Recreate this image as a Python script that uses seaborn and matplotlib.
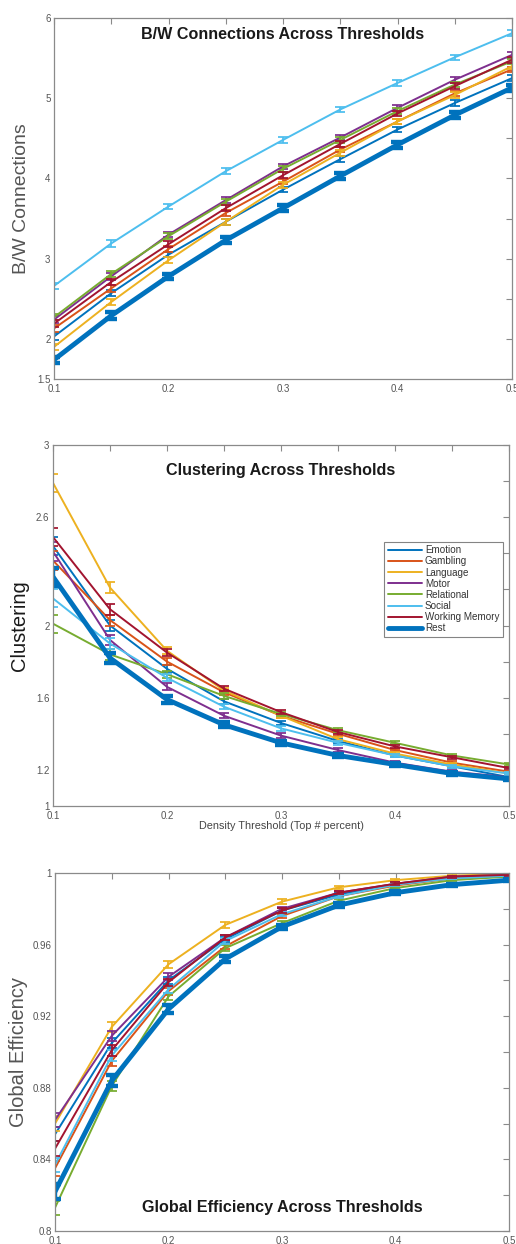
import numpy as np
import pandas as pd
import matplotlib
matplotlib.use("Agg")
import matplotlib.pyplot as plt
import seaborn as sns

sns.set_style("white")
plt.rcParams['font.family'] = ['Liberation Sans', 'DejaVu Sans']

thresholds = [0.1, 0.15, 0.2, 0.25, 0.3, 0.35, 0.4, 0.45, 0.5]
conditions = ["Emotion", "Gambling", "Language", "Motor", "Relational", "Social", "Working Memory", "Rest"]
colors = ["#0072BD", "#D95319", "#EDB120", "#7E2F8E", "#77AC30", "#4DBEEE", "#A2142F", "#0072BD"]

bw_values = {
    "Emotion":        [2.03, 2.57, 3.05, 3.46, 3.86, 4.24, 4.61, 4.94, 5.25],
    "Gambling":       [2.13, 2.63, 3.12, 3.57, 3.96, 4.36, 4.71, 5.06, 5.36],
    "Language":       [1.90, 2.46, 2.98, 3.46, 3.92, 4.32, 4.71, 5.04, 5.40],
    "Motor":          [2.24, 2.78, 3.30, 3.73, 4.15, 4.51, 4.88, 5.23, 5.54],
    "Relational":     [2.27, 2.81, 3.28, 3.71, 4.12, 4.48, 4.84, 5.17, 5.46],
    "Social":         [2.66, 3.19, 3.65, 4.09, 4.48, 4.86, 5.19, 5.51, 5.81],
    "Working Memory": [2.19, 2.71, 3.18, 3.63, 4.04, 4.43, 4.81, 5.15, 5.48],
    "Rest":           [1.74, 2.29, 2.78, 3.23, 3.63, 4.03, 4.42, 4.79, 5.13],
}
bw_err = [0.04, 0.04, 0.035, 0.035, 0.035, 0.035, 0.035, 0.035, 0.035]

clust_values = {
    "Emotion":        [2.44, 2.00, 1.76, 1.58, 1.46, 1.36, 1.28, 1.22, 1.16],
    "Gambling":       [2.36, 2.03, 1.80, 1.63, 1.50, 1.40, 1.31, 1.24, 1.19],
    "Language":       [2.79, 2.21, 1.86, 1.64, 1.50, 1.37, 1.29, 1.23, 1.18],
    "Motor":          [2.41, 1.92, 1.66, 1.50, 1.39, 1.31, 1.24, 1.19, 1.16],
    "Relational":     [2.01, 1.84, 1.73, 1.61, 1.51, 1.42, 1.35, 1.28, 1.23],
    "Social":         [2.15, 1.90, 1.71, 1.55, 1.43, 1.35, 1.28, 1.22, 1.18],
    "Working Memory": [2.49, 2.09, 1.85, 1.65, 1.52, 1.41, 1.33, 1.27, 1.21],
    "Rest":           [2.27, 1.82, 1.59, 1.45, 1.35, 1.28, 1.23, 1.18, 1.15],
}
clust_err = [0.05, 0.03, 0.02, 0.015, 0.012, 0.01, 0.008, 0.007, 0.006]

geff_values = {
    "Emotion":        [0.854, 0.905, 0.940, 0.963, 0.979, 0.988, 0.994, 0.997, 0.999],
    "Gambling":       [0.835, 0.895, 0.934, 0.959, 0.976, 0.987, 0.993, 0.997, 0.9987],
    "Language":       [0.860, 0.914, 0.949, 0.971, 0.984, 0.992, 0.996, 0.9985, 0.9996],
    "Motor":          [0.862, 0.909, 0.942, 0.964, 0.980, 0.989, 0.994, 0.998, 0.999],
    "Relational":     [0.813, 0.881, 0.931, 0.958, 0.972, 0.9845, 0.9916, 0.996, 0.998],
    "Social":         [0.837, 0.898, 0.935, 0.962, 0.977, 0.987, 0.9935, 0.997, 0.9985],
    "Working Memory": [0.846, 0.901, 0.939, 0.964, 0.979, 0.989, 0.994, 0.998, 0.999],
    "Rest":           [0.822, 0.884, 0.924, 0.952, 0.970, 0.982, 0.989, 0.9935, 0.996],
}
geff_err = [0.004, 0.003, 0.002, 0.0015, 0.0012, 0.001, 0.0008, 0.0006, 0.0005]

fig = plt.figure(figsize=(5.16, 12.44), dpi=100)
ax1 = fig.add_axes([54/516, 1-379/1244, 458/516, 361/1244])
ax2 = fig.add_axes([53/516, 1-806/1244, 456/516, 361/1244])
ax3 = fig.add_axes([55/516, 1-1231/1244, 454/516, 358/1244])

palette = dict(zip(conditions, colors))
widths = {c: (3.5 if c == "Rest" else 1.4) for c in conditions}

def draw(ax, values, err):
    df = pd.DataFrame([(c, t, v) for c in conditions for t, v in zip(thresholds, values[c])],
                      columns=["cond", "thr", "val"])
    for c in conditions:
        sub = df[df.cond == c]
        sns.lineplot(data=sub, x="thr", y="val", ax=ax, color=palette[c],
                     linewidth=widths[c], label=c, legend=False)
        ax.errorbar(sub.thr, sub.val, yerr=err, fmt="none", ecolor=palette[c],
                    elinewidth=widths[c] * 0.9, capsize=3.5 if c != "Rest" else 4,
                    capthick=widths[c] * 0.9)

def style(ax, ylim, yticks, ylabels):
    ax.set_xlim(0.1, 0.5)
    ax.set_ylim(*ylim)
    ax.set_xticks(np.arange(0.1, 0.5001, 0.05))
    ax.set_xticklabels(["0.1", "", "0.2", "", "0.3", "", "0.4", "", "0.5"])
    ax.set_yticks(yticks)
    ax.set_yticklabels(ylabels)
    ax.tick_params(direction="in", length=4, width=0.8, top=True, right=True,
                   labelsize=7, colors="#8a8a8a", labelcolor="#555555", pad=2)
    ax.tick_params(axis="x", pad=3.5)
    ax.tick_params(axis="y", pad=2.5)
    for s in ax.spines.values():
        s.set_color("#8a8a8a")
        s.set_linewidth(0.9)
    ax.set_xlabel("")

draw(ax1, bw_values, bw_err)
style(ax1, (1.5, 6), [1.5, 2, 2.5, 3, 3.5, 4, 4.5, 5, 5.5, 6],
      ["1.5", "2", "", "3", "", "4", "", "5", "", "6"])
ax1.set_ylabel("B/W Connections", fontsize=14, color="#555555", labelpad=5)
ax1.text(0.5, 0.955, "B/W Connections Across Thresholds", transform=ax1.transAxes,
         ha="center", va="center", fontsize=11.6, fontweight="bold", color="#1a1a1a")

draw(ax2, clust_values, clust_err)
style(ax2, (1, 3), np.round(np.arange(1, 3.001, 0.2), 1),
      ["1", "1.2", "", "1.6", "", "2", "", "", "2.6", "", "3"])
ax2.set_ylabel("Clustering", fontsize=14.5, color="#1a1a1a", labelpad=5)
ax2.set_xlabel("Density Threshold (Top # percent)", fontsize=7.8, color="#444444", labelpad=0)
ax2.text(0.5, 0.93, "Clustering Across Thresholds", transform=ax2.transAxes,
         ha="center", va="center", fontsize=11.6, fontweight="bold", color="#1a1a1a")
leg = ax2.legend(loc="upper left", bbox_to_anchor=(0.726, 0.732), fontsize=7.1,
                 frameon=True, fancybox=False, edgecolor="#666666", handlelength=3.5,
                 handletextpad=0.3, borderpad=0.35, labelspacing=0.12, borderaxespad=0)
leg.get_frame().set_linewidth(0.8)
for t in leg.get_texts():
    t.set_color("#333333")

draw(ax3, geff_values, geff_err)
style(ax3, (0.8, 1.0), np.round(np.arange(0.8, 1.0001, 0.02), 2),
      ["0.8", "", "0.84", "", "0.88", "", "0.92", "", "0.96", "", "1"])
ax3.set_ylabel("Global Efficiency", fontsize=14.5, color="#555555", labelpad=3)
ax3.text(0.5, 0.065, "Global Efficiency Across Thresholds", transform=ax3.transAxes,
         ha="center", va="center", fontsize=11.6, fontweight="bold", color="#1a1a1a")

fig.savefig("out.png", dpi=100)
